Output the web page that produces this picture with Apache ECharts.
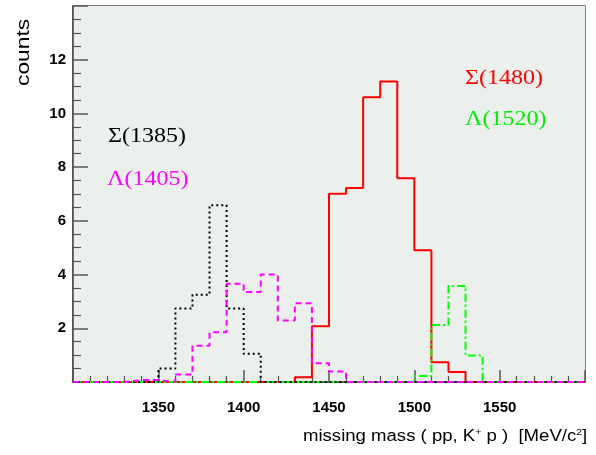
<!DOCTYPE html>
<html>
<head>
<meta charset="utf-8">
<script src="https://cdn.jsdelivr.net/npm/echarts@6/dist/echarts.min.js"></script>
<style>
html,body{margin:0;padding:0;background:#fff;}
#c{width:596px;height:455px;}
</style>
</head>
<body>
<div id="c"></div>
<script>
// Lower bin edges (MeV/c^2), bin width 10
const binEdges = [1300,1310,1320,1330,1340,1350,1360,1370,1380,1390,
                  1400,1410,1420,1430,1440,1450,1460,1470,1480,1490,
                  1500,1510,1520,1530,1540,1550,1560,1570,1580,1590];
const lastEdge = 1600;
// Sigma(1385) - black dotted
const sigma1385 = [0,0,0,0,0,0.5,2.74,3.25,6.58,2.74,
                   1.05,0,0,0,0,0,0,0,0,0,
                   0,0,0,0,0,0,0,0,0,0];
// Lambda(1405) - magenta dashed
const lambda1405 = [0,0,0,0.07,0.07,0,0.28,1.35,1.85,3.66,
                    3.35,4.0,2.29,2.93,0.7,0.39,0,0,0,0,
                    0,0,0,0,0,0,0,0,0,0];
// Sigma(1480) - red solid
const sigma1480 = [0,0,0,0,0,0,0,0,0,0,
                   0,0,0,0.18,2.08,7.01,7.22,10.6,11.19,7.59,
                   4.91,0.74,0.37,0,0,0,0,0,0,0];
// Lambda(1520) - green dash-dot
const lambda1520 = [0,0,0,0,0,0,0,0,0,0,
                    0,0,0,0,0,0,0,0,0,0,
                    0.22,2.12,3.57,0.99,0,0,0,0,0,0];
const xTickLabels = [1350,1400,1450,1500,1550];
const yTickLabels = [2,4,6,8,10,12];

function hist(vals){
  const d = binEdges.map((e,i)=>[e, vals[i]]);
  d.push([lastEdge, vals[vals.length-1]]);
  return d;
}

const plotBg = '#ecf0ec';
const chart = echarts.init(document.getElementById('c'), null, {renderer:'canvas'});
const labelFont = {fontFamily:'Liberation Sans', fontWeight:'bold', fontSize:15, color:'#000'};
chart.setOption({
  animation:false,
  grid:{left:73, right:11, top:6, bottom:73, show:true, backgroundColor:plotBg, borderColor:'#555', borderWidth:1.5},
  xAxis:{
    type:'value', min:1300, max:1600, interval:50,
    axisLine:{lineStyle:{color:'#444', width:1.5}},
    axisTick:{inside:true, length:12, lineStyle:{color:'#555', width:1.5}},
    minorTick:{show:true, splitNumber:5, length:6, lineStyle:{color:'#555', width:1.2}},
    splitLine:{show:false},
    axisLabel:Object.assign({margin:18, formatter:v=>xTickLabels.indexOf(v)>=0?String(v):''}, labelFont)
  },
  yAxis:{
    type:'value', min:0, max:14, interval:2,
    axisLine:{lineStyle:{color:'#444', width:1.5}},
    axisTick:{inside:true, length:15, lineStyle:{color:'#555', width:1.5}},
    minorTick:{show:true, splitNumber:4, length:8, lineStyle:{color:'#555', width:1.2}},
    splitLine:{show:false},
    splitArea:{show:true, areaStyle:{color:[plotBg, plotBg]}},
    axisLabel:Object.assign({margin:7, formatter:v=>yTickLabels.indexOf(v)>=0?String(v):''}, labelFont)
  },
  series:[
    {type:'line', step:'end', symbol:'none', data:hist(sigma1480), z:2,
     lineStyle:{color:'#ff0000', width:2}},
    {type:'line', step:'end', symbol:'none', data:hist(lambda1520), z:3,
     lineStyle:{color:'#00ff00', width:2, type:[8,3,2,3]}},
    {type:'line', step:'end', symbol:'none', data:hist(sigma1385), z:4,
     lineStyle:{color:'#000', width:2, type:[2,3]}},
    {type:'line', step:'end', symbol:'none', data:hist(lambda1405), z:5,
     lineStyle:{color:'#ff00ff', width:2, type:[6,4]}}
  ],
  graphic:[
    {type:'text', z:100, x:108, y:127, scaleX:1.2, style:{text:'Σ(1385)', fill:'#000', font:'20px "Liberation Serif"'}},
    {type:'text', z:100, x:107, y:170, scaleX:1.2, style:{text:'Λ(1405)', fill:'#ff00ff', font:'20px "Liberation Serif"'}},
    {type:'text', z:100, x:465, y:69, scaleX:1.2, style:{text:'Σ(1480)', fill:'#ff0000', font:'20px "Liberation Serif"'}},
    {type:'text', z:100, x:465, y:110, scaleX:1.2, style:{text:'Λ(1520)', fill:'#00ee00', font:'20px "Liberation Serif"'}},
    {type:'text', z:100, x:14, y:86, rotation:Math.PI/2, scaleX:1.2,
     style:{text:'counts', fill:'#000', font:'19px "Liberation Sans"'}},
    {type:'text', z:100, x:303, y:428, scaleX:1.16,
     style:{text:'{n|missing mass ( pp, K}{s|+}{n| p )  [MeV/c}{s|2}{n|]}',
       rich:{n:{fontFamily:'Liberation Sans', fontSize:16, fill:'#000'},
             s:{fontFamily:'Liberation Sans', fontSize:9, fill:'#000', verticalAlign:'top', padding:[0,0,8,0]}}}}
  ]
});
</script>
</body>
</html>
